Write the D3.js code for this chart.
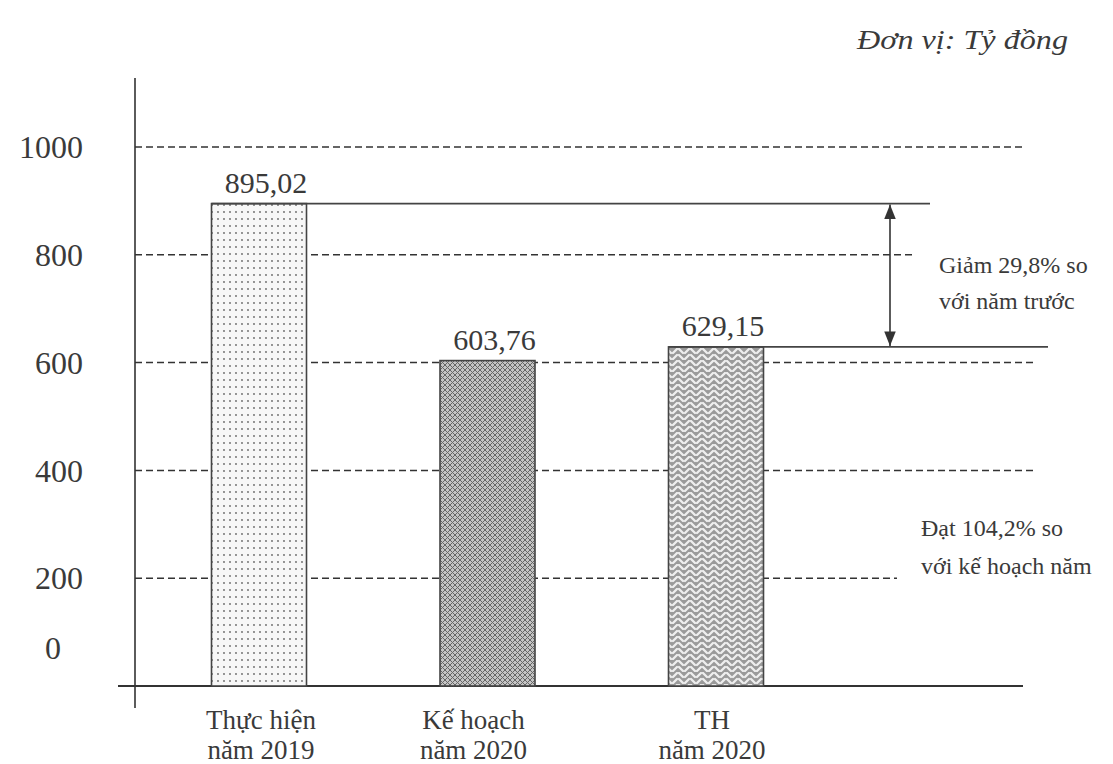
<!DOCTYPE html>
<html>
<head>
<meta charset="utf-8">
<script src="https://cdn.jsdelivr.net/npm/d3@7"></script>
<style>
  body { margin: 0; background: #fff; }
  text { font-family: "Liberation Serif", "Times New Roman", serif; fill: #3a3a3a; }
</style>
</head>
<body>
<script>
const categories = ['Thực hiện|năm 2019', 'Kế hoạch|năm 2020', 'TH|năm 2020'];
const values = [895.02, 603.76, 629.15];
const valueLabels = ['895,02', '603,76', '629,15'];
const yTicks = [0, 200, 400, 600, 800, 1000];
const unitText = 'Đơn vị: Tỷ đồng';
const noteDrop = ['Giảm 29,8% so', 'với năm trước'];
const notePlan = ['Đạt 104,2% so', 'với kế hoạch năm'];

const w = 1113;
const h = 764;
const axisX = 135;
const baseY = 686;

const svg = d3.select('body')
              .append('svg')
              .attr('width', w)
              .attr('height', h)

const y = d3.scaleLinear()
            .domain([0, 1000])
            .range([baseY, 147])

const x = d3.scalePoint()
            .domain(categories)
            .range([259, 716])
const barW = 95;

// fill patterns, roughly like the scanned hatching
const defs = svg.append('defs');
const dots = defs.append('pattern')
                 .attr('id', 'dots')
                 .attr('width', 6).attr('height', 7)
                 .attr('patternUnits', 'userSpaceOnUse')
dots.append('rect').attr('width', 6).attr('height', 7).attr('fill', '#f7f7f7')
dots.append('circle').attr('cx', 2).attr('cy', 2).attr('r', 0.9).attr('fill', '#666')

const cross = defs.append('pattern')
                  .attr('id', 'cross')
                  .attr('width', 5).attr('height', 5)
                  .attr('patternUnits', 'userSpaceOnUse')
cross.append('rect').attr('width', 5).attr('height', 5).attr('fill', '#c4c4c4')
cross.append('path')
     .attr('d', 'M0,0 L5,5 M5,0 L0,5')
     .attr('stroke', '#666')
     .attr('stroke-width', 1)

const zig = defs.append('pattern')
                .attr('id', 'zig')
                .attr('width', 12).attr('height', 12)
                .attr('patternUnits', 'userSpaceOnUse')
zig.append('rect').attr('width', 12).attr('height', 12).attr('fill', '#9a9a9a')
zig.append('path')
   .attr('d', 'M1,5 L5,1 M7,1 L11,5 M1,11 L5,7 M7,7 L11,11')
   .attr('fill', 'none')
   .attr('stroke', '#eeeeee')
   .attr('stroke-width', 2.4)
   .attr('stroke-linecap', 'round')

defs.append('marker')
    .attr('id', 'arrow')
    .attr('viewBox', '0 0 10 10')
    .attr('refX', 10).attr('refY', 5)
    .attr('markerWidth', 9).attr('markerHeight', 9)
    .attr('orient', 'auto-start-reverse')
    .append('path')
    .attr('d', 'M0,1 L10,5 L0,9 Z')
    .attr('fill', '#333')

// dashed grid lines, ending where the notes sit
const gridEnd = {200: 897, 400: 1037, 600: 1037, 800: 913, 1000: 1023};
svg.append('g')
   .selectAll('line')
   .data(yTicks.filter(d => d > 0))
   .enter()
   .append('line')
   .attr('x1', axisX)
   .attr('x2', d => gridEnd[d])
   .attr('y1', d => y(d))
   .attr('y2', d => y(d))
   .attr('stroke', '#333')
   .attr('stroke-width', 1.5)
   .attr('stroke-dasharray', '7,4')

// tick labels (the 0 sits higher than the base line in the original)
svg.append('g')
   .selectAll('text')
   .data(yTicks)
   .enter()
   .append('text')
   .attr('x', d => d === 0 ? 61 : 83)
   .attr('y', d => d === 0 ? y(d) - 38 : y(d))
   .attr('dy', '0.35em')
   .attr('text-anchor', 'end')
   .style('font-size', '32px')
   .text(d => d)

// axes
svg.append('line')
   .attr('x1', axisX).attr('x2', axisX)
   .attr('y1', 78).attr('y2', 708)
   .attr('stroke', '#333').attr('stroke-width', 1.6)
svg.append('line')
   .attr('x1', 118).attr('x2', 1023)
   .attr('y1', baseY).attr('y2', baseY)
   .attr('stroke', '#333').attr('stroke-width', 1.8)

// bars
const fills = ['url(#dots)', 'url(#cross)', 'url(#zig)'];
svg.append('g')
   .selectAll('rect')
   .data(values)
   .enter()
   .append('rect')
   .attr('x', (d, i) => x(categories[i]) - barW / 2)
   .attr('y', d => y(d))
   .attr('width', barW)
   .attr('height', d => baseY - y(d))
   .attr('fill', (d, i) => fills[i])
   .attr('stroke', '#444')
   .attr('stroke-width', 1.6)

svg.append('g')
   .selectAll('text')
   .data(values)
   .enter()
   .append('text')
   .attr('x', (d, i) => x(categories[i]) + 7)
   .attr('y', d => y(d) - 11)
   .attr('text-anchor', 'middle')
   .style('font-size', '30px')
   .text((d, i) => valueLabels[i])

// category labels
const cat = svg.append('g')
               .selectAll('text')
               .data(categories)
               .enter()
               .append('text')
               .attr('text-anchor', 'middle')
               .style('font-size', '27px')
cat.append('tspan').attr('x', (d, i) => x(d) + [2, -14, -4][i]).attr('y', 729).text(d => d.split('|')[0])
cat.append('tspan').attr('x', (d, i) => x(d) + [2, -14, -4][i]).attr('y', 759).text(d => d.split('|')[1])

// reference lines and the double arrow between 2019 and TH 2020
svg.append('line')
   .attr('x1', x(categories[0]) - barW / 2).attr('x2', 930)
   .attr('y1', y(values[0])).attr('y2', y(values[0]))
   .attr('stroke', '#444').attr('stroke-width', 1.6)
svg.append('line')
   .attr('x1', x(categories[2]) - barW / 2).attr('x2', 1048)
   .attr('y1', y(values[2])).attr('y2', y(values[2]))
   .attr('stroke', '#444').attr('stroke-width', 1.6)
svg.append('line')
   .attr('x1', 890).attr('x2', 890)
   .attr('y1', y(values[0]) + 1).attr('y2', y(values[2]) - 1)
   .attr('stroke', '#333').attr('stroke-width', 1.6)
   .attr('marker-start', 'url(#arrow)')
   .attr('marker-end', 'url(#arrow)')

// notes
const note1 = svg.append('text').style('font-size', '24px')
note1.selectAll('tspan').data(noteDrop).enter().append('tspan')
     .attr('x', 939).attr('y', (d, i) => 273 + i * 36).text(d => d)
const note2 = svg.append('text').style('font-size', '24px')
note2.selectAll('tspan').data(notePlan).enter().append('tspan')
     .attr('x', 921).attr('y', (d, i) => 536 + i * 38).text(d => d)

svg.append('text')
   .attr('x', 857).attr('y', 49)
   .attr('textLength', 211)
   .attr('lengthAdjust', 'spacingAndGlyphs')
   .style('font-size', '27px')
   .style('font-style', 'italic')
   .text(unitText)
</script>
</body>
</html>
